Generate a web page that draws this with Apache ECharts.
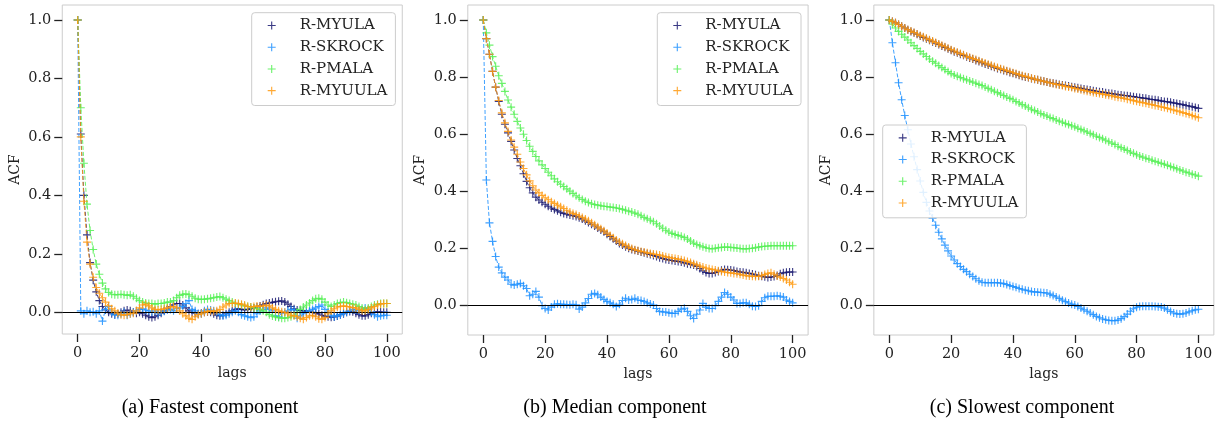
<!DOCTYPE html>
<html><head><meta charset="utf-8">
<script src="https://cdn.jsdelivr.net/npm/echarts@6/dist/echarts.min.js"></script>
<style>html,body{margin:0;padding:0;background:#fff}#c{width:1225px;height:423px}</style>
</head><body><div id="c"></div>
<script>
// ---------------- data ----------------
const methods = ['R-MYULA', 'R-SKROCK', 'R-PMALA', 'R-MYUULA'];
const lags = Array.from({length: 101}, (_, i) => i);
const xTicks = [0, 20, 40, 60, 80, 100];
const yTicks = [0.0, 0.2, 0.4, 0.6, 0.8, 1.0];
const captions = ['(a) Fastest component', '(b) Median component', '(c) Slowest component'];

// (a) Fastest component
const fastMYULA = [1.0,0.61,0.40,0.265,0.17,0.11,0.07,0.04,0.02,0.008,
 0.0,-0.005,-0.008,-0.005,0.0,0.005,0.008,0.005,0.0,-0.003,
 0.0,-0.005,-0.01,-0.015,-0.018,-0.015,-0.01,-0.003,0.005,0.012,
 0.02,0.026,0.03,0.03,0.025,0.015,0.005,0.0,-0.003,-0.005,
 -0.003,0.0,0.002,0.0,-0.005,-0.01,-0.012,-0.01,-0.005,0.0,
 0.005,0.01,0.012,0.01,0.008,0.01,0.012,0.015,0.018,0.022,
 0.026,0.03,0.032,0.034,0.036,0.038,0.039,0.035,0.028,0.02,
 0.012,0.008,0.006,0.005,0.004,0.003,0.0,-0.003,-0.006,-0.01,
 -0.013,-0.015,-0.017,-0.016,-0.013,-0.008,-0.005,0.0,0.003,0.002,
 -0.003,-0.008,-0.012,-0.012,-0.008,-0.003,0.0,0.002,0.001,0.0,
 0.0];
const fastSKROCK = [1.0,0.005,-0.005,0.005,0.0,0.002,-0.005,0.005,-0.03,0.01,
 0.02,0.0,-0.008,-0.01,-0.005,0.0,-0.01,-0.005,0.0,0.005,
 0.01,0.012,0.008,0.005,0.0,0.005,-0.003,0.0,0.004,0.008,
 0.01,0.005,0.012,0.015,0.02,0.03,0.04,0.01,0.005,-0.005,
 -0.005,0.005,0.01,0.008,0.005,0.0,-0.008,-0.012,-0.01,-0.005,
 0.0,0.005,0.0,-0.008,-0.012,-0.015,-0.018,-0.015,-0.005,0.005,
 0.01,0.015,0.01,0.005,-0.012,-0.015,-0.003,0.0,0.005,0.01,
 0.008,-0.02,-0.012,-0.005,0.0,0.005,0.01,0.015,0.02,0.025,
 0.01,0.0,-0.01,-0.015,-0.012,-0.008,-0.003,0.0,0.005,0.01,
 0.008,0.005,0.01,0.015,0.01,0.0,-0.008,-0.015,-0.012,-0.01,
 -0.01];
const fastPMALA = [1.0,0.70,0.51,0.37,0.28,0.215,0.165,0.13,0.10,0.08,
 0.068,0.062,0.06,0.06,0.062,0.06,0.058,0.06,0.055,0.048,
 0.04,0.035,0.032,0.03,0.03,0.028,0.03,0.03,0.032,0.035,
 0.035,0.04,0.05,0.058,0.062,0.063,0.06,0.055,0.048,0.045,
 0.044,0.045,0.046,0.048,0.05,0.052,0.054,0.05,0.045,0.04,
 0.035,0.03,0.028,0.025,0.022,0.02,0.018,0.015,0.012,0.01,
 0.005,0.0,-0.008,-0.013,-0.016,-0.018,-0.02,-0.02,-0.018,-0.015,
 -0.01,0.0,0.01,0.018,0.025,0.032,0.04,0.046,0.048,0.045,
 0.035,0.025,0.02,0.025,0.03,0.033,0.035,0.033,0.03,0.028,
 0.025,0.02,0.015,0.01,0.015,0.02,0.025,0.028,0.03,0.03,
 0.03];
const fastMYUULA = [1.0,0.60,0.38,0.24,0.165,0.12,0.085,0.065,0.05,0.035,
 0.022,0.012,0.005,-0.003,-0.008,-0.01,-0.008,-0.005,-0.003,0.005,
 0.015,0.025,0.028,0.022,0.015,0.01,0.008,0.01,0.012,0.015,
 0.018,0.02,0.015,0.005,-0.005,-0.012,-0.02,-0.024,-0.015,-0.008,
 -0.005,0.0,0.003,0.005,0.003,0.005,0.01,0.018,0.025,0.03,
 0.03,0.032,0.03,0.028,0.025,0.02,0.018,0.02,0.022,0.02,
 0.022,0.025,0.022,0.015,0.01,0.005,0.002,0.0,-0.005,-0.01,
 -0.012,-0.015,-0.02,-0.024,-0.018,-0.012,-0.01,-0.015,-0.022,-0.024,
 -0.018,-0.005,0.005,0.012,0.018,0.02,0.022,0.02,0.018,0.016,
 0.015,0.01,0.005,0.005,0.01,0.015,0.02,0.025,0.028,0.03,
 0.03];

// (b) Median component
const medMYULA = [1.0,0.935,0.88,0.82,0.765,0.715,0.67,0.635,0.605,0.575,
 0.545,0.515,0.49,0.462,0.435,0.413,0.395,0.38,0.37,0.362,
 0.355,0.348,0.342,0.337,0.332,0.327,0.323,0.32,0.317,0.315,
 0.312,0.308,0.303,0.297,0.291,0.285,0.279,0.272,0.265,0.259,
 0.25,0.242,0.234,0.226,0.218,0.212,0.206,0.201,0.197,0.194,
 0.191,0.188,0.185,0.182,0.179,0.176,0.172,0.168,0.165,0.162,
 0.16,0.158,0.156,0.155,0.153,0.15,0.147,0.145,0.142,0.137,
 0.13,0.122,0.116,0.113,0.113,0.116,0.12,0.124,0.127,0.126,
 0.125,0.123,0.12,0.118,0.117,0.115,0.113,0.111,0.108,0.105,
 0.103,0.101,0.099,0.1,0.102,0.106,0.112,0.115,0.117,0.118,
 0.118];
const medSKROCK = [1.0,0.44,0.29,0.225,0.172,0.135,0.115,0.1,0.09,0.075,
 0.072,0.075,0.078,0.07,0.06,0.035,0.04,0.05,0.03,0.0,
 -0.01,-0.015,-0.005,0.005,0.007,0.005,0.005,0.004,0.003,0.005,
 0.003,-0.012,-0.005,0.01,0.025,0.04,0.043,0.038,0.03,0.022,
 0.015,0.01,0.005,-0.003,0.005,0.018,0.026,0.02,0.022,0.026,
 0.02,0.018,0.015,0.01,0.006,0.002,-0.01,-0.02,-0.022,-0.022,
 -0.025,-0.027,-0.027,-0.02,-0.012,-0.009,-0.02,-0.035,-0.045,-0.03,
 -0.015,0.008,-0.005,-0.01,-0.01,0.0,0.015,0.03,0.046,0.04,
 0.03,0.02,0.008,0.008,0.01,0.01,0.005,-0.002,-0.003,0.0,
 0.015,0.028,0.033,0.033,0.033,0.035,0.033,0.03,0.02,0.015,
 0.01];
const medPMALA = [1.0,0.955,0.912,0.872,0.838,0.805,0.778,0.75,0.72,0.695,
 0.67,0.645,0.622,0.6,0.578,0.558,0.54,0.522,0.507,0.493,
 0.48,0.467,0.455,0.444,0.434,0.425,0.417,0.409,0.401,0.393,
 0.385,0.378,0.372,0.366,0.361,0.357,0.354,0.352,0.35,0.348,
 0.347,0.345,0.344,0.342,0.34,0.337,0.334,0.331,0.328,0.324,
 0.32,0.315,0.309,0.304,0.299,0.294,0.287,0.279,0.271,0.264,
 0.258,0.253,0.249,0.246,0.243,0.239,0.233,0.226,0.219,0.214,
 0.21,0.206,0.203,0.2,0.199,0.201,0.203,0.204,0.205,0.205,
 0.204,0.203,0.202,0.2,0.199,0.199,0.2,0.201,0.203,0.205,
 0.207,0.208,0.209,0.21,0.21,0.21,0.21,0.21,0.21,0.21,
 0.21];
const medMYUULA = [1.0,0.935,0.88,0.82,0.765,0.718,0.675,0.64,0.61,0.58,
 0.555,0.53,0.503,0.48,0.458,0.437,0.42,0.405,0.395,0.386,
 0.378,0.371,0.364,0.358,0.352,0.346,0.34,0.334,0.328,0.323,
 0.319,0.314,0.309,0.303,0.297,0.29,0.283,0.276,0.269,0.262,
 0.254,0.246,0.238,0.23,0.223,0.217,0.211,0.205,0.2,0.196,
 0.193,0.19,0.188,0.185,0.183,0.181,0.179,0.177,0.174,0.171,
 0.169,0.167,0.165,0.163,0.161,0.158,0.155,0.151,0.147,0.143,
 0.139,0.135,0.132,0.129,0.127,0.125,0.122,0.12,0.118,0.116,
 0.115,0.113,0.112,0.11,0.107,0.105,0.104,0.103,0.102,0.103,
 0.105,0.109,0.113,0.115,0.11,0.104,0.1,0.095,0.09,0.082,
 0.075];

// (c) Slowest component
const slowMYULA = [1.0,0.995,0.99,0.984,0.978,0.972,0.966,0.96,0.955,0.95,
 0.944,0.939,0.934,0.929,0.924,0.919,0.914,0.909,0.904,0.899,
 0.894,0.889,0.885,0.88,0.876,0.871,0.867,0.863,0.858,0.854,
 0.85,0.846,0.842,0.838,0.834,0.83,0.827,0.823,0.82,0.816,
 0.813,0.81,0.806,0.803,0.8,0.798,0.795,0.792,0.79,0.787,
 0.785,0.782,0.78,0.778,0.776,0.774,0.772,0.77,0.768,0.766,
 0.764,0.762,0.76,0.758,0.756,0.754,0.752,0.75,0.748,0.747,
 0.745,0.743,0.742,0.74,0.738,0.737,0.735,0.734,0.732,0.731,
 0.729,0.728,0.726,0.725,0.723,0.721,0.72,0.718,0.716,0.714,
 0.713,0.711,0.709,0.707,0.705,0.703,0.7,0.698,0.696,0.693,
 0.69];
const slowSKROCK = [1.0,0.92,0.85,0.78,0.72,0.665,0.615,0.565,0.52,0.475,
 0.435,0.395,0.36,0.33,0.305,0.28,0.255,0.232,0.21,0.19,
 0.172,0.158,0.145,0.135,0.125,0.117,0.108,0.1,0.092,0.085,
 0.08,0.078,0.078,0.078,0.078,0.078,0.077,0.075,0.072,0.068,
 0.065,0.062,0.058,0.055,0.052,0.05,0.047,0.046,0.045,0.044,
 0.043,0.042,0.038,0.033,0.028,0.023,0.017,0.012,0.007,0.003,
 0.0,-0.005,-0.011,-0.017,-0.022,-0.028,-0.034,-0.04,-0.045,-0.049,
 -0.052,-0.054,-0.055,-0.055,-0.053,-0.048,-0.041,-0.032,-0.022,-0.013,
 -0.008,-0.005,-0.004,-0.004,-0.004,-0.004,-0.005,-0.006,-0.007,-0.011,
 -0.017,-0.023,-0.028,-0.031,-0.032,-0.031,-0.028,-0.024,-0.02,-0.017,
 -0.015];
const slowPMALA = [1.0,0.985,0.972,0.96,0.95,0.94,0.93,0.92,0.91,0.9,
 0.89,0.881,0.872,0.863,0.855,0.848,0.84,0.833,0.826,0.819,
 0.812,0.807,0.803,0.798,0.794,0.79,0.786,0.782,0.778,0.774,
 0.77,0.765,0.76,0.755,0.75,0.745,0.74,0.735,0.73,0.725,
 0.72,0.714,0.709,0.703,0.698,0.692,0.687,0.682,0.677,0.672,
 0.667,0.663,0.658,0.654,0.649,0.645,0.641,0.637,0.633,0.629,
 0.625,0.62,0.616,0.611,0.607,0.602,0.597,0.592,0.588,0.583,
 0.578,0.573,0.568,0.563,0.557,0.552,0.547,0.542,0.537,0.532,
 0.527,0.523,0.519,0.515,0.512,0.508,0.504,0.501,0.497,0.494,
 0.49,0.486,0.482,0.478,0.474,0.47,0.466,0.463,0.459,0.456,
 0.452];
const slowMYUULA = [1.0,0.995,0.99,0.984,0.978,0.972,0.966,0.961,0.956,0.951,
 0.946,0.941,0.936,0.931,0.926,0.921,0.916,0.911,0.906,0.901,
 0.896,0.891,0.887,0.882,0.878,0.873,0.869,0.865,0.861,0.857,
 0.853,0.849,0.845,0.841,0.837,0.833,0.829,0.826,0.822,0.819,
 0.815,0.812,0.808,0.805,0.802,0.799,0.796,0.793,0.79,0.787,
 0.785,0.782,0.779,0.777,0.774,0.772,0.77,0.767,0.765,0.763,
 0.76,0.758,0.755,0.753,0.75,0.748,0.746,0.744,0.742,0.74,
 0.738,0.736,0.734,0.731,0.729,0.727,0.725,0.722,0.72,0.717,
 0.715,0.712,0.71,0.708,0.705,0.703,0.7,0.698,0.695,0.693,
 0.69,0.687,0.684,0.681,0.678,0.675,0.672,0.669,0.665,0.661,
 0.657];

const panels = [
  [fastMYULA, fastSKROCK, fastPMALA, fastMYUULA],
  [medMYULA, medSKROCK, medPMALA, medMYUULA],
  [slowMYULA, slowSKROCK, slowPMALA, slowMYUULA]
];

// ---------------- styling / layout ----------------
const colors = ['#191970', '#1E90FF', '#55F055', '#FF9A10'];
const PLUS = 'path://M4.3,0H5.7V4.3H10V5.7H5.7V10H4.3V5.7H0V4.3H4.3Z';
const SERIF = 'DejaVu Serif';
const grids = [
  {left: 62.25, top: 5, width: 340, height: 329},
  {left: 467.8, top: 5, width: 340.3, height: 330},
  {left: 873.85, top: 5, width: 340, height: 330}
];
const yRanges = [[-0.0742, 1.0513], [-0.1026, 1.0525], [-0.1053, 1.0526]];
const legendPos = [{left: 251.7, top: 12.7}, {left: 657.3, top: 12.7}, {left: 882.7, top: 125}];
const captionX = [210, 615, 1022];

const chart = echarts.init(document.getElementById('c'), null, {renderer: 'canvas'});

const xAxes = grids.map((g, i) => ({
  type: 'value', gridIndex: i, min: -5, max: 105, position: 'bottom',
  name: 'lags', nameLocation: 'middle', nameGap: 30,
  nameTextStyle: {fontFamily: SERIF, fontSize: 14, color: '#222'},
  splitLine: {show: false},
  axisLine: {show: false, onZero: false},
  axisTick: {show: true, inside: false, length: 8, lineStyle: {color: '#222', width: 1.3}, customValues: xTicks},
  axisLabel: {fontFamily: SERIF, fontSize: 14.5, color: '#222', margin: 12, customValues: xTicks,
    formatter: v => String(v)}
}));
const yAxes = grids.map((g, i) => ({
  type: 'value', gridIndex: i, min: yRanges[i][0], max: yRanges[i][1], position: 'left',
  name: 'ACF', nameLocation: 'middle', nameGap: 40, nameRotate: 90,
  nameTextStyle: {fontFamily: SERIF, fontSize: 14, color: '#222'},
  splitLine: {show: false},
  axisLine: {show: false, onZero: false},
  axisTick: {show: true, inside: false, length: 8, lineStyle: {color: '#222', width: 1.3}, customValues: yTicks},
  axisLabel: {fontFamily: SERIF, fontSize: 14.5, color: '#222', margin: 11, customValues: yTicks,
    formatter: v => v.toFixed(1)}
}));

const series = [];
panels.forEach((arrs, p) => {
  arrs.forEach((arr, k) => {
    const s = {
      type: 'line', name: methods[k], xAxisIndex: p, yAxisIndex: p,
      data: arr.map((v, i) => [lags[i], v]),
      symbol: PLUS, symbolSize: 8, showSymbol: true, showAllSymbol: true,
      itemStyle: {color: colors[k], opacity: 0.85},
      lineStyle: {color: colors[k], width: 1, type: [4, 2], opacity: 0.85},
      emphasis: {disabled: true}, animation: false, z: 2 + k
    };
    if (k === 0) {
      s.markLine = {silent: true, symbol: 'none', label: {show: false}, animation: false,
        lineStyle: {color: '#000', width: 1.2, type: 'solid'}, data: [{yAxis: 0}]};
    }
    series.push(s);
  });
});

const legends = legendPos.map(pos => ({
  orient: 'vertical', left: pos.left, top: pos.top,
  data: methods.map(n => ({name: n, icon: PLUS})),
  itemWidth: 8, itemHeight: 8, itemGap: 0,
  padding: [2, 8, 4, 16],
  backgroundColor: 'rgba(255,255,255,0.85)', borderColor: '#cccccc', borderWidth: 1, borderRadius: 3,
  selectedMode: false,
  textStyle: {fontFamily: SERIF, fontSize: 15, color: '#222', lineHeight: 21.7, padding: [0, 0, 0, 19]}
}));

const graphics = captions.map((t, i) => ({
  type: 'text', x: captionX[i], y: 408,
  style: {text: t, fill: '#000', font: '20px "Liberation Serif"', textAlign: 'center', textVerticalAlign: 'middle'}
}));

chart.setOption({
  animation: false,
  backgroundColor: '#fff',
  grid: grids.map(g => Object.assign({show: true, borderColor: '#cccccc', borderWidth: 1, backgroundColor: 'transparent'}, g)),
  xAxis: xAxes, yAxis: yAxes,
  legend: legends,
  series: series,
  graphic: graphics
});
</script></body></html>
